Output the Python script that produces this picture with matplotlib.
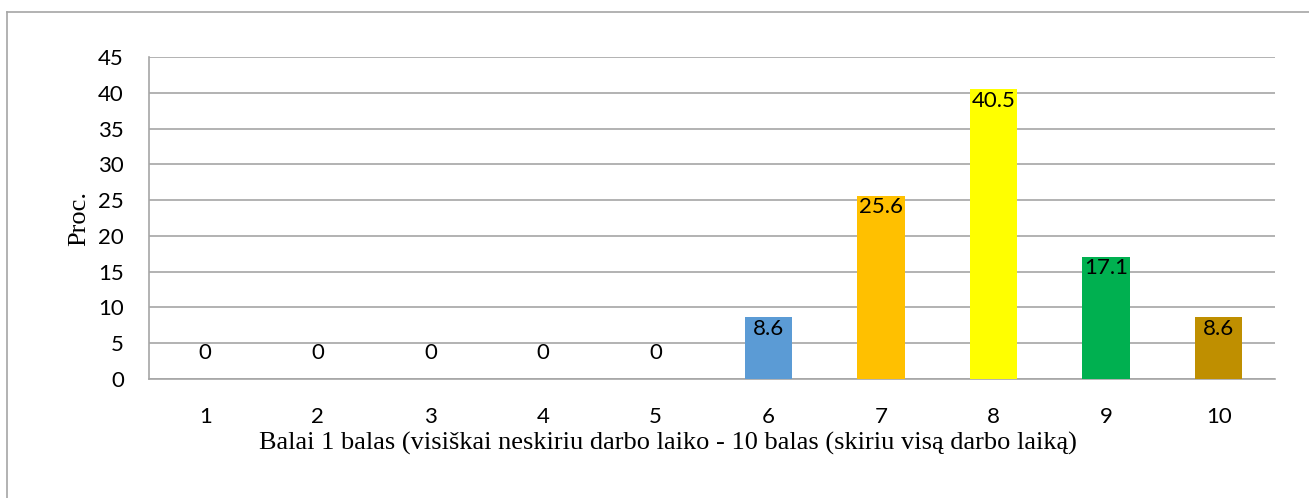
import matplotlib
matplotlib.use("Agg")
import matplotlib.pyplot as plt
from matplotlib.lines import Line2D

# data
categories = ["1", "2", "3", "4", "5", "6", "7", "8", "9", "10"]
values = [0, 0, 0, 0, 0, 8.6, 25.6, 40.5, 17.1, 8.6]
labels = ["0", "0", "0", "0", "0", "8.6", "25.6", "40.5", "17.1", "8.6"]
colors = ["#5B9BD5", "#5B9BD5", "#5B9BD5", "#5B9BD5", "#5B9BD5",
          "#5B9BD5", "#FFC000", "#FFFF00", "#00B050", "#BF8F00"]
yticks = [0, 5, 10, 15, 20, 25, 30, 35, 40, 45]

sans = ["Lato", "DejaVu Sans"]
serif = ["Liberation Serif", "DejaVu Serif"]

fig = plt.figure(figsize=(13.09, 4.98), dpi=100)
ax = fig.add_axes([149 / 1309, 1 - 379 / 498, (1275 - 149) / 1309, (379 - 57) / 498])

x = list(range(len(categories)))
bars = ax.bar(x, values, width=0.42, color=colors, zorder=3)

# labels sit at the inside end of each bar
for b, v, lab in zip(bars, values, labels):
    xc = b.get_x() + b.get_width() / 2
    if v > 0:
        ax.annotate(lab, (xc, v), xytext=(0, -1), textcoords="offset points",
                    ha="center", va="top", fontsize=16, family=sans, zorder=4)
    else:
        ax.annotate(lab, (xc, 0), xytext=(0, 19), textcoords="offset points",
                    ha="center", va="center", fontsize=16, family=sans, zorder=4)

ax.set_xlim(-0.5, len(categories) - 0.5)
ax.set_ylim(0, 45)
ax.set_yticks(yticks)
ax.set_xticks(x)
ax.set_xticklabels(categories, family=sans, fontsize=16)
ax.set_yticklabels([str(t) for t in yticks], family=sans, fontsize=16)
ax.tick_params(axis="both", length=0)
ax.tick_params(axis="x", pad=20)
ax.tick_params(axis="y", pad=18)

ax.grid(axis="y", color="#A6A6A6", linewidth=1.2, zorder=0)
for side in ["top", "right"]:
    ax.spines[side].set_visible(False)
for side in ["left", "bottom"]:
    ax.spines[side].set_color("#A6A6A6")
    ax.spines[side].set_linewidth(1.2)

ax.set_ylabel("Proc.", family=serif, fontsize=19, labelpad=6)
ax.set_xlabel("Balai 1 balas (visiškai neskiriu darbo laiko - 10 balas (skiriu visą darbo laiką)",
              family=serif, fontsize=19, labelpad=4)
ax.xaxis.label.set_x(0.461)

# chart-area frame (only top and left edges visible)
fig.add_artist(Line2D([7 / 1309, 7 / 1309], [0, 1 - 12 / 498], color="#A6A6A6", lw=1.2))
fig.add_artist(Line2D([7 / 1309, 1], [1 - 12 / 498, 1 - 12 / 498], color="#A6A6A6", lw=1.2))

fig.savefig("out.png", dpi=100)
